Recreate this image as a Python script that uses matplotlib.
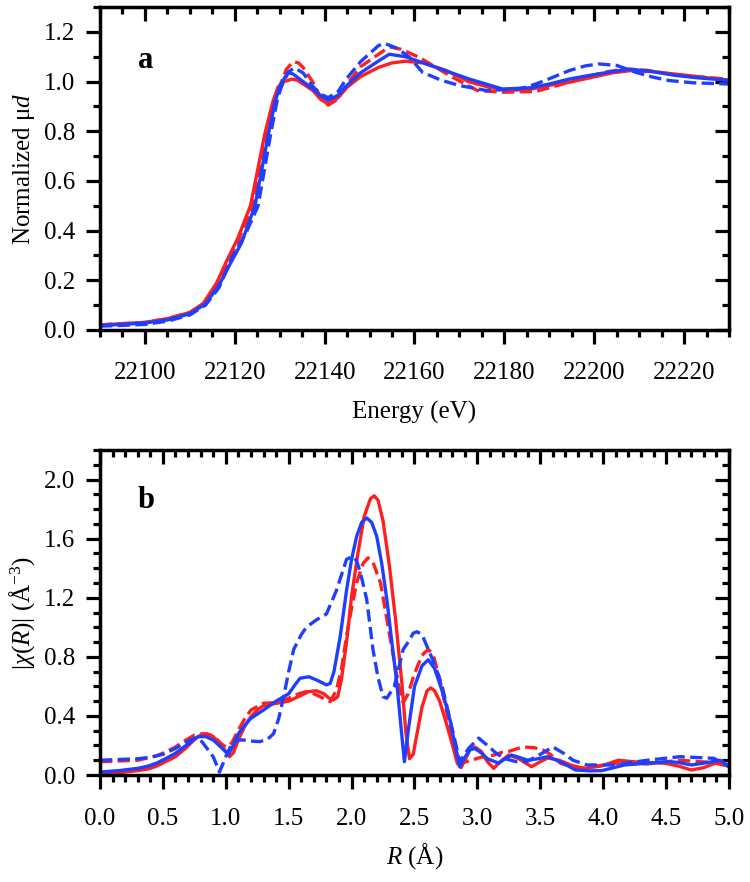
import numpy as np
import matplotlib
matplotlib.use("Agg")
import matplotlib.pyplot as plt
from matplotlib.ticker import MultipleLocator

plt.rcParams['font.family'] = ['Liberation Serif', 'DejaVu Serif']
plt.rcParams['mathtext.fontset'] = 'custom'
plt.rcParams['mathtext.rm'] = 'Liberation Serif'
plt.rcParams['mathtext.it'] = 'Liberation Serif:italic'

RED = '#ff1f1f'
BLUE = '#1f3fff'

# panel a: XANES (energy in eV, normalized absorption)
e_red = [22090, 22095, 22100, 22105, 22110, 22113, 22116, 22118, 22120.7, 22123.5, 22126.7,
         22128.5, 22129.6, 22131, 22132.8, 22134, 22135.2, 22137.4, 22139, 22140.8, 22143, 22145,
         22148, 22152, 22155, 22158, 22162, 22167, 22172, 22177, 22181, 22186, 22190, 22194.4,
         22199, 22204, 22208, 22213, 22218, 22223, 22230]
mu_red = [0.02, 0.025, 0.03, 0.045, 0.07, 0.107, 0.19, 0.27, 0.37, 0.50, 0.79,
          0.92, 0.977, 1.0, 1.01, 1.005, 0.99, 0.964, 0.93, 0.91, 0.935, 0.977,
          1.02, 1.057, 1.075, 1.082, 1.075, 1.045, 1.0, 0.975, 0.964, 0.97, 0.985, 0.997,
          1.015, 1.035, 1.044, 1.04, 1.03, 1.02, 1.005]

e_red_d = [22090, 22095, 22100, 22105, 22110, 22113.5, 22116.5, 22118.5, 22121, 22124, 22127,
           22129, 22130, 22131.5, 22133, 22134.2, 22135.2, 22137.4, 22139, 22140.8, 22143, 22145,
           22148, 22152, 22154.4, 22157, 22161, 22164.5, 22168.5, 22174, 22179.6, 22187, 22192,
           22198, 22203, 22207, 22212, 22217, 22222, 22230]
mu_red_d = [0.02, 0.025, 0.03, 0.045, 0.07, 0.107, 0.19, 0.27, 0.37, 0.50, 0.79,
            0.93, 0.98, 1.05, 1.08, 1.075, 1.057, 0.997, 0.94, 0.905, 0.93, 0.99,
            1.06, 1.11, 1.14, 1.13, 1.098, 1.06, 1.017, 0.964, 0.957, 0.96, 0.985,
            1.017, 1.04, 1.05, 1.045, 1.03, 1.02, 1.01]

e_blue = [22090, 22095, 22100, 22105, 22110, 22113.5, 22116.5, 22118.5, 22121.5, 22124.5, 22127.5,
          22129, 22130, 22131.8, 22133, 22135.2, 22137.4, 22139, 22140.8, 22143, 22145, 22148,
          22152, 22154.4, 22158, 22164.8, 22172.2, 22179.6, 22186, 22190, 22194.4, 22199,
          22204, 22208, 22213, 22218, 22223, 22230]
mu_blue = [0.018, 0.022, 0.028, 0.04, 0.065, 0.105, 0.18, 0.25, 0.35, 0.50, 0.79,
           0.92, 0.98, 1.037, 1.03, 1.0, 0.97, 0.945, 0.925, 0.945, 0.985, 1.035,
           1.083, 1.11, 1.1, 1.057, 1.01, 0.97, 0.975, 0.99, 1.01, 1.025,
           1.04, 1.05, 1.04, 1.025, 1.015, 1.005]

e_blue_d = [22090, 22095, 22100, 22105, 22110, 22113.5, 22116.5, 22119.6, 22122.5, 22125.2, 22128.1,
            22129.5, 22130.4, 22132, 22133.3, 22135.2, 22137.4, 22139, 22140.8, 22143, 22144.8,
            22148, 22152, 22153.3, 22156, 22158.9, 22161.8, 22166, 22170, 22176, 22183.3, 22187,
            22190.5, 22194.4, 22198, 22201, 22205, 22209.3, 22213, 22216.7, 22222, 22230]
mu_blue_d = [0.015, 0.018, 0.022, 0.035, 0.06, 0.1, 0.17, 0.3, 0.39, 0.50, 0.80,
             0.93, 0.98, 1.04, 1.055, 1.035, 0.98, 0.95, 0.935, 0.96, 1.01,
             1.08, 1.145, 1.154, 1.135, 1.098, 1.037, 1.005, 0.984, 0.964, 0.97, 0.99,
             1.015, 1.044, 1.063, 1.071, 1.065, 1.037, 1.018, 1.004, 0.995, 0.99]

# panel b: Fourier transform magnitude
r_red = [0.0, 0.15, 0.3, 0.38, 0.45, 0.52, 0.6, 0.68, 0.75, 0.8, 0.85, 0.9, 0.95, 1.0, 1.03,
         1.06, 1.1, 1.15, 1.2, 1.25, 1.3, 1.4, 1.5, 1.6, 1.66, 1.72, 1.78, 1.82, 1.855, 1.89,
         1.92, 1.96, 2.0, 2.05, 2.1, 2.15, 2.18, 2.21, 2.25, 2.3, 2.35, 2.4, 2.43, 2.46, 2.49,
         2.52, 2.56, 2.6, 2.63, 2.66, 2.7, 2.75, 2.8, 2.84, 2.87, 2.9, 2.94, 2.98, 3.03, 3.08,
         3.13, 3.18, 3.25, 3.33, 3.43, 3.5, 3.56, 3.65, 3.75, 3.85, 3.98, 4.12, 4.3, 4.49,
         4.6, 4.7, 4.8, 4.89, 5.0]
chi_red = [0.01, 0.015, 0.03, 0.04, 0.06, 0.09, 0.124, 0.18, 0.24, 0.27, 0.28, 0.26, 0.215,
           0.16, 0.124, 0.15, 0.237, 0.33, 0.395, 0.44, 0.47, 0.485, 0.5, 0.54, 0.565, 0.57,
           0.55, 0.52, 0.508, 0.53, 0.65, 0.9, 1.21, 1.5, 1.75, 1.87, 1.89, 1.86, 1.72, 1.42,
           1.05, 0.62, 0.3, 0.11, 0.14, 0.28, 0.46, 0.57, 0.59, 0.57, 0.5, 0.36, 0.21, 0.08,
           0.05, 0.1, 0.17, 0.19, 0.16, 0.09, 0.045, 0.09, 0.135, 0.11, 0.056, 0.09, 0.115,
           0.1, 0.065, 0.045, 0.06, 0.1, 0.085, 0.08, 0.06, 0.034, 0.05, 0.08, 0.06]

r_red_d = [0.0, 0.15, 0.3, 0.45, 0.52, 0.6, 0.68, 0.75, 0.82, 0.88, 0.93, 0.98, 1.01, 1.05,
           1.1, 1.15, 1.2, 1.3, 1.4, 1.5, 1.58, 1.64, 1.7, 1.75, 1.83, 1.88, 1.92, 1.96, 2.0,
           2.04, 2.09, 2.13, 2.17, 2.23, 2.3, 2.37, 2.41, 2.45, 2.49, 2.53, 2.57, 2.61, 2.65,
           2.7, 2.77, 2.83, 2.87, 2.91, 2.95, 3.03, 3.13, 3.2, 3.25, 3.36, 3.45, 3.52, 3.58,
           3.66, 3.75, 3.82, 3.95, 4.08, 4.35, 4.61, 4.77, 5.0]
chi_red_d = [0.09, 0.095, 0.1, 0.13, 0.155, 0.19, 0.235, 0.27, 0.28, 0.27, 0.24, 0.2, 0.19,
             0.22, 0.305, 0.38, 0.44, 0.486, 0.49, 0.52, 0.55, 0.565, 0.55, 0.53, 0.497, 0.576,
             0.72, 0.94, 1.13, 1.3, 1.43, 1.47, 1.44, 1.3, 0.96, 0.62, 0.49, 0.55, 0.66, 0.75,
             0.82, 0.85, 0.81, 0.65, 0.373, 0.16, 0.08, 0.09, 0.1, 0.12, 0.135, 0.155, 0.16,
             0.19, 0.185, 0.17, 0.14, 0.08, 0.055, 0.045, 0.06, 0.08, 0.075, 0.1, 0.09, 0.08]

r_blue = [0.0, 0.15, 0.3, 0.38, 0.45, 0.52, 0.6, 0.7, 0.78, 0.84, 0.9, 0.96, 1.02, 1.06, 1.1,
          1.15, 1.2, 1.3, 1.4, 1.5, 1.55, 1.59, 1.66, 1.73, 1.8, 1.83, 1.86, 1.91, 1.96, 2.0,
          2.04, 2.08, 2.12, 2.16, 2.2, 2.24, 2.28, 2.32, 2.36, 2.39, 2.42, 2.45, 2.5, 2.56,
          2.61, 2.66, 2.72, 2.78, 2.83, 2.86, 2.9, 2.94, 2.98, 3.03, 3.08, 3.17, 3.22, 3.27,
          3.33, 3.4, 3.48, 3.56, 3.66, 3.78, 3.9, 3.99, 4.17, 4.35, 4.52, 4.6, 4.7, 4.8,
          4.93, 5.0]
chi_blue = [0.02, 0.03, 0.045, 0.06, 0.08, 0.11, 0.147, 0.21, 0.26, 0.26, 0.237, 0.19, 0.14,
            0.2, 0.28, 0.335, 0.384, 0.44, 0.5, 0.55, 0.61, 0.655, 0.665, 0.64, 0.61, 0.62,
            0.7, 0.94, 1.25, 1.46, 1.615, 1.71, 1.74, 1.71, 1.615, 1.43, 1.19, 0.9, 0.62, 0.35,
            0.09, 0.3, 0.6, 0.74, 0.78, 0.72, 0.57, 0.38, 0.17, 0.056, 0.12, 0.17, 0.18, 0.15,
            0.11, 0.08, 0.11, 0.135, 0.12, 0.1, 0.11, 0.124, 0.09, 0.034, 0.028, 0.03, 0.068,
            0.08, 0.09, 0.085, 0.068, 0.08, 0.1, 0.06]

r_blue_d = [0.0, 0.15, 0.3, 0.4, 0.5, 0.6, 0.68, 0.75, 0.79, 0.82, 0.86, 0.9, 0.95, 1.0, 1.05,
            1.1, 1.14, 1.2, 1.27, 1.33, 1.38, 1.42, 1.46, 1.5, 1.54, 1.6, 1.64, 1.72, 1.8, 1.88,
            1.96, 2.01, 2.04, 2.07, 2.12, 2.17, 2.21, 2.25, 2.28, 2.34, 2.41, 2.45, 2.49, 2.52,
            2.56, 2.61, 2.66, 2.72, 2.77, 2.82, 2.86, 2.93, 3.01, 3.08, 3.15, 3.22, 3.31, 3.39,
            3.5, 3.6, 3.68, 3.76, 3.87, 4.08, 4.35, 4.61, 4.88, 5.0]
chi_blue_d = [0.1, 0.105, 0.11, 0.12, 0.14, 0.18, 0.22, 0.25, 0.245, 0.215, 0.17, 0.124, 0.02,
              0.124, 0.215, 0.237, 0.237, 0.23, 0.226, 0.24, 0.28, 0.38, 0.53, 0.7, 0.85, 0.95,
              1.0, 1.05, 1.09, 1.25, 1.46, 1.48, 1.45, 1.37, 1.19, 0.85, 0.66, 0.53, 0.52, 0.6,
              0.85, 0.9, 0.96, 0.97, 0.95, 0.85, 0.75, 0.6, 0.42, 0.24, 0.09, 0.18, 0.25, 0.2,
              0.147, 0.11, 0.09, 0.09, 0.14, 0.19, 0.15, 0.1, 0.068, 0.068, 0.1, 0.124, 0.113,
              0.056]

fig = plt.figure(figsize=(7.5, 8.82), dpi=100)
ax1 = fig.add_axes([0.1333, 0.626, 0.8387, 0.366])
ax2 = fig.add_axes([0.1333, 0.1213, 0.8387, 0.3685])

lw = 2.4
ax1.plot(e_red, mu_red, color=RED, lw=lw)
ax1.plot(e_red_d, mu_red_d, color=RED, lw=lw, ls='--')
ax1.plot(e_blue, mu_blue, color=BLUE, lw=lw)
ax1.plot(e_blue_d, mu_blue_d, color=BLUE, lw=lw, ls='--')

ax2.plot(r_red, chi_red, color=RED, lw=lw)
ax2.plot(r_red_d, chi_red_d, color=RED, lw=lw, ls='--')
ax2.plot(r_blue, chi_blue, color=BLUE, lw=lw)
ax2.plot(r_blue_d, chi_blue_d, color=BLUE, lw=lw, ls='--')

ax1.set_xlim(22090, 22230)
ax1.set_ylim(0, 1.3)
ax1.xaxis.set_major_locator(MultipleLocator(20))
ax1.xaxis.set_minor_locator(MultipleLocator(5))
ax1.yaxis.set_minor_locator(MultipleLocator(0.1))
ax1.set_yticks([0, 0.2, 0.4, 0.6, 0.8, 1.0, 1.2])
ax1.set_yticklabels(['0.0', '0.2', '0.4', '0.6', '0.8', '1.0', '1.2'])
ax1.set_xlabel('Energy (eV)', fontsize=18, labelpad=12)
ax1.set_ylabel(r'Normalized μ$\it{d}$', fontsize=18, labelpad=5)
ax1.text(0.06, 0.81, 'a', transform=ax1.transAxes, fontsize=22, fontweight='bold')

ax2.set_xlim(0, 5)
ax2.set_ylim(0, 2.2)
ax2.xaxis.set_minor_locator(MultipleLocator(0.1))
ax2.yaxis.set_minor_locator(MultipleLocator(0.1))
ax2.set_xticks(np.arange(0, 5.01, 0.5))
ax2.set_xticklabels(['%.1f' % v for v in np.arange(0, 5.01, 0.5)])
ax2.set_yticks([0, 0.4, 0.8, 1.2, 1.6, 2.0])
ax2.set_yticklabels(['0.0', '0.4', '0.8', '1.2', '1.6', '2.0'])
ax2.set_xlabel(r'$R$ (Å)', fontsize=18, labelpad=8)
ax2.set_ylabel(r'|$\chi$($R$)| (Å$^{-3}$)', fontsize=18, labelpad=5)
ax2.text(0.06, 0.82, 'b', transform=ax2.transAxes, fontsize=22, fontweight='bold')

for ax, xpad in ((ax1, 13), (ax2, 14)):
    for s in ax.spines.values():
        s.set_linewidth(2.5)
    ax.tick_params(which='both', width=2.3, labelsize=18, direction='out',
                   bottom=True, left=True, top=True, right=True)
    ax.tick_params(which='major', length=10)
    ax.tick_params(which='minor', length=5)
    ax.tick_params(axis='y', which='major', pad=8)
    ax.tick_params(axis='x', which='major', pad=xpad)
    # top/right ticks point inward
    for t in ax.xaxis.get_major_ticks() + ax.xaxis.get_minor_ticks():
        t.tick2line.set_marker(3)
    for t in ax.yaxis.get_major_ticks() + ax.yaxis.get_minor_ticks():
        t.tick2line.set_marker(0)

fig.savefig('out.png', dpi=100)
